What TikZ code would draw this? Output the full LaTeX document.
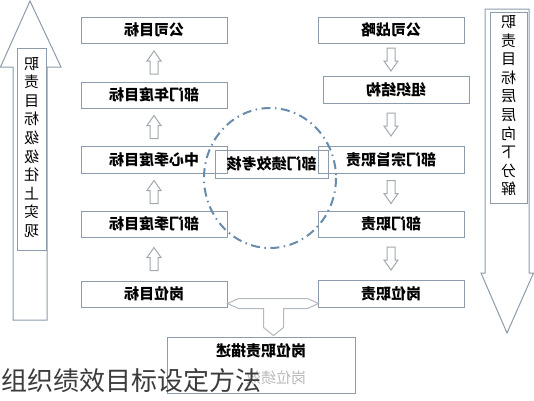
\documentclass[tikz,border=0pt]{standalone}
\usepackage{fontspec}
\usepackage{graphicx}
\usetikzlibrary{calc}
\newfontfamily\cjk{Noto Sans CJK SC}
\definecolor{boxline}{RGB}{140,156,170}
\definecolor{arrline}{RGB}{160,168,176}
\definecolor{ringcol}{RGB}{104,140,172}
\definecolor{faded}{RGB}{185,185,185}
\definecolor{captcol}{RGB}{60,60,60}
\newcommand\mir[1]{\reflectbox{#1}}
\newcommand\vstack[1]{\reflectbox{\begin{tabular}{@{}c@{}}#1\end{tabular}}}
\newcommand\blkup[2]{%
  \draw[blk] let \p1=($(#1.south)!0.5!(#2.north)$) in
    (\x1,\y1+11.5pt) -- (\x1+7pt,\y1+1.5pt) -- (\x1+4pt,\y1+1.5pt) -- (\x1+4pt,\y1-11.5pt)
    -- (\x1-4pt,\y1-11.5pt) -- (\x1-4pt,\y1+1.5pt) -- (\x1-7pt,\y1+1.5pt) -- cycle;}
\newcommand\blkdown[2]{%
  \draw[blk] let \p1=($(#1.south)!0.5!(#2.north)$), \p2=(gszl.south) in
    (\x2,\y1-11.5pt) -- (\x2+7pt,\y1-1.5pt) -- (\x2+4pt,\y1-1.5pt) -- (\x2+4pt,\y1+11.5pt)
    -- (\x2-4pt,\y1+11.5pt) -- (\x2-4pt,\y1-1.5pt) -- (\x2-7pt,\y1-1.5pt) -- cycle;}
\tikzset{
  box/.style={draw=boxline, line width=1pt, inner sep=0pt, minimum width=146pt,
    minimum height=26pt, font=\cjk\bfseries\fontsize{15}{18}\selectfont},
  blk/.style={draw=arrline, line width=1pt, fill=white},
  bigarr/.style={draw=boxline, line width=1pt, fill=white},
  vbox/.style={draw=boxline, line width=1pt, fill=white, inner sep=0pt,
    font=\cjk\fontsize{15}{18.6}\selectfont},
  callout/.style={draw=arrline!80, line width=1pt, fill=white},
  ring/.style={draw=ringcol, line width=2pt, dash pattern=on 9pt off 4.5pt on 1.5pt off 4.5pt},
}
\begin{document}
\begin{tikzpicture}[x=1pt,y=-1pt]
\useasboundingbox[fill=white] (0,0) rectangle (534,400);
% big side arrows
\draw[bigarr] (30,1) -- (61,67) -- (47,67) -- (47,320) -- (13,320) -- (13,67) -- (0.5,67) -- cycle;
\node[vbox, minimum width=29pt, minimum height=202pt] (lt) at (31.5,149)
  {\vstack{职\\责\\目\\标\\级\\级\\往\\上\\实\\现}};
\draw[bigarr] (485,9) -- (529,9) -- (529,273) -- (533.5,273) -- (507,333) -- (481,273) -- (485,273) -- cycle;
\node[vbox, minimum width=37pt, minimum height=191pt] (rt) at (508.5,107.5)
  {\vstack{职\\责\\目\\标\\层\\层\\向\\下\\分\\解}};
% left column
\node[box] (gsmb) at (154,30) {\mir{公司目标}};
\node[box] (bmnd) at (154,95) {\mir{部门年度目标}};
\node[box, minimum height=27pt] (zxjd) at (154,159.5) {\mir{中心季度目标}};
\node[box] (bmjd) at (154,224) {\mir{部门季度目标}};
\node[box] (gwmb) at (154,294) {\mir{岗位目标}};
% right column
\node[box] (gszl) at (391,30) {\mir{公司战略}};
\node[box, minimum height=27pt] (zzjg) at (396,89.5) {\mir{组织结构}};
\node[box, minimum height=27pt] (bmzz) at (391,159.5) {\mir{部门宗旨职责}};
\node[box] (bmzr) at (391,224) {\mir{部门职责}};
\node[box, minimum height=27pt] (gwzr) at (391,293.5) {\mir{岗位职责}};
% centre
\node[box, minimum width=113pt, minimum height=28pt] (jxkh) at (271.5,164) {\mir{部门绩效考核}};
% small arrows
\blkup{gsmb}{bmnd}
\blkup{bmnd}{zxjd}
\blkup{zxjd}{bmjd}
\blkup{bmjd}{gwmb}
\blkdown{gszl}{zzjg}
\blkdown{zzjg}{bmzz}
\blkdown{bmzz}{bmzr}
\blkdown{bmzr}{gwzr}
% bottom box
\node[box, minimum width=188pt, minimum height=56pt] (gwms) at (261,365)
  {\mir{\fontsize{15}{27}\selectfont\begin{tabular}{@{}l@{}}岗位职责描述\\ \textcolor{faded}{\mdseries 岗位绩效}\end{tabular}}};
\draw[callout] ($(gwmb.south east)+(0,-4)$) -- ++(11,-5) -- ++(69,0) -- ++(11,5)
  -- ++(-11,5) -- ++(-24,0) -- ++(0,19) -- ++(-10,8) -- ++(-10,-8) -- ++(0,-19) -- ++(-25,0) -- cycle;
% ring
\draw[ring] (270,178) ellipse [x radius=66, y radius=70];
% caption
\node[font=\cjk\fontsize{26}{30}\selectfont, text=captcol, inner sep=0pt, anchor=west] (cap) at (1,381)
  {组织绩效目标设定方法};
\end{tikzpicture}
\end{document}
